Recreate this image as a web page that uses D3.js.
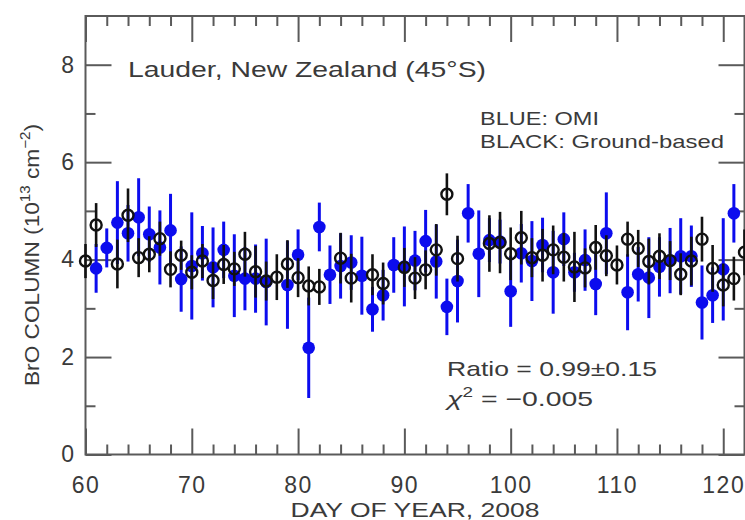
<!DOCTYPE html>
<html>
<head>
<meta charset="utf-8">
<script src="https://cdn.jsdelivr.net/npm/d3@7"></script>
<style>
  html, body { margin: 0; padding: 0; background: #fff; }
  svg text { font-family: "Liberation Sans", "DejaVu Sans", sans-serif; fill: #3a3a3a; }
</style>
</head>
<body>
<svg id="chart" width="745" height="520"></svg>
<script>
// ---- data ----
const days = [60,61,62,63,64,65,66,67,68,69,70,71,72,73,74,75,76,77,78,79,80,81,82,83,84,85,86,87,88,89,90,91,92,93,94,95,96,97,98,99,100,101,102,103,104,105,106,107,108,109,110,111,112,113,114,115,116,117,118,119,120,121,122];

const groundValues = [3.97,4.71,null,3.91,4.91,4.04,4.11,4.43,3.80,4.09,3.74,
  3.97,3.57,3.90,3.81,4.11,3.75,3.56,3.64,3.91,3.63,
  3.46,3.44,null,4.03,3.62,null,3.69,3.51,null,3.84,
  3.62,3.79,4.20,5.34,4.02,null,null,4.33,4.35,4.12,
  4.45,4.04,4.09,4.20,4.05,3.85,3.83,4.25,4.08,3.89,
  4.42,4.23,3.96,4.07,3.98,3.70,3.97,4.42,3.82,3.48,
  3.61,4.15];
const groundErrors = [0.35,0.45,null,0.50,0.55,0.40,0.37,0.35,0.37,0.30,0.35,
  0.35,0.38,0.40,0.35,0.46,0.53,0.40,0.47,0.49,0.40,
  0.40,0.37,null,0.52,0.50,null,0.42,0.43,null,0.40,
  0.43,0.40,0.53,0.43,0.47,null,null,0.58,0.63,0.54,
  0.55,0.40,0.54,0.50,0.50,0.72,0.40,0.46,0.42,0.40,
  0.36,0.38,0.47,0.47,0.40,0.43,0.50,0.46,0.48,0.44,
  0.45,0.47];

const omiValues = [null,3.82,4.24,4.76,4.54,4.87,4.52,4.25,4.60,3.60,3.87,
  4.13,3.84,4.20,3.67,3.61,3.61,3.54,null,3.48,4.10,
  2.19,4.67,3.69,3.87,3.94,3.67,2.98,3.27,3.89,3.86,
  3.98,4.38,3.96,3.03,3.56,4.95,4.12,4.40,4.37,3.35,
  4.13,3.97,4.30,3.74,4.42,3.74,3.99,3.50,4.54,null,
  3.33,3.70,3.63,3.85,3.98,4.07,4.07,3.12,3.27,3.80,
  4.95,null];
const omiErrors = [null,0.50,0.40,0.85,0.58,0.80,0.57,0.76,0.75,0.67,1.10,
  0.56,0.82,0.58,0.85,0.65,0.70,0.89,null,0.90,0.52,
  1.03,0.50,0.60,0.67,0.56,0.80,0.46,0.52,0.57,0.82,
  0.61,0.64,0.76,0.58,0.85,0.60,0.89,0.45,0.45,0.73,
  0.60,0.82,0.56,0.85,0.55,0.40,0.63,0.64,0.84,null,
  0.78,0.56,0.83,0.61,0.67,0.78,0.63,0.76,0.57,1.05,
  0.60,null];

const xMajorTicks = [60,70,80,90,100,110,120];
const xMinorTicks = [62,64,66,68,72,74,76,78,82,84,86,88,92,94,96,98,102,104,106,108,112,114,116,118,122];
const yMajorTicks = [0,2,4,6,8];
const yMinorTicks = [1,3,5,7];

const titleText = "Lauder, New Zealand (45°S)";
const legendLines = ["BLUE: OMI", "BLACK: Ground-based"];
const ratioText = "Ratio = 0.99±0.15";
const chiValue = " = −0.005";
const xLabel = "DAY OF YEAR, 2008";

// ---- layout ----
const svg = d3.select("#chart");
const L = 85.5, R = 744.5, T = 16, B = 454.5;
const x = d3.scaleLinear().domain([60, 122]).range([L, R]);
const y = d3.scaleLinear().domain([0, 9]).range([B, T]);
const axisColor = "#5a5a5a";
const blue = "#0c0cee";
const black = "#111";

// frame
svg.append("rect").attr("x", L).attr("y", T).attr("width", R - L).attr("height", B - T)
  .attr("fill", "none").attr("stroke", axisColor).attr("stroke-width", 2);

function styleAxis(g) {
  g.select(".domain").remove();
  g.selectAll(".tick line").attr("stroke", axisColor).attr("stroke-width", 2);
  g.selectAll(".tick text").style("font-size", "23px").attr("fill", "#3a3a3a")
    .style("letter-spacing", "1.5px");
}
const MAJ = 26, MIN = 10;
svg.append("g").attr("transform", `translate(0,${B})`)
  .call(d3.axisBottom(x).tickValues(xMajorTicks).tickSize(-MAJ).tickPadding(22).tickFormat(d3.format("d")))
  .call(styleAxis);
svg.append("g").attr("transform", `translate(0,${B})`)
  .call(d3.axisBottom(x).tickValues(xMinorTicks).tickSize(-MIN).tickFormat(""))
  .call(styleAxis);
svg.append("g").attr("transform", `translate(0,${T})`)
  .call(d3.axisTop(x).tickValues(xMajorTicks).tickSize(-MAJ).tickFormat(""))
  .call(styleAxis);
svg.append("g").attr("transform", `translate(0,${T})`)
  .call(d3.axisTop(x).tickValues(xMinorTicks).tickSize(-MIN).tickFormat(""))
  .call(styleAxis);
svg.append("g").attr("transform", `translate(${L},0)`)
  .call(d3.axisLeft(y).tickValues(yMajorTicks).tickSize(-MAJ).tickPadding(10).tickFormat(d3.format("d")))
  .call(styleAxis);
svg.append("g").attr("transform", `translate(${L},0)`)
  .call(d3.axisLeft(y).tickValues(yMinorTicks).tickSize(-MIN).tickFormat(""))
  .call(styleAxis);
svg.append("g").attr("transform", `translate(${R},0)`)
  .call(d3.axisRight(y).tickValues(yMajorTicks).tickSize(-MAJ).tickFormat(""))
  .call(styleAxis);
svg.append("g").attr("transform", `translate(${R},0)`)
  .call(d3.axisRight(y).tickValues(yMinorTicks).tickSize(-MIN).tickFormat(""))
  .call(styleAxis);

// data rows
const omiRows = days.map((d, i) => ({day: d, v: omiValues[i], e: omiErrors[i]})).filter(r => r.v != null);
const groundRows = days.map((d, i) => ({day: d, v: groundValues[i], e: groundErrors[i]})).filter(r => r.v != null);

const plot = svg.append("g");
// OMI (blue, filled)
plot.append("g").selectAll("line").data(omiRows).join("line")
  .attr("x1", d => x(d.day)).attr("x2", d => x(d.day))
  .attr("y1", d => y(d.v - d.e)).attr("y2", d => y(d.v + d.e))
  .attr("stroke", blue).attr("stroke-width", 3);
plot.append("g").selectAll("circle").data(omiRows).join("circle")
  .attr("cx", d => x(d.day)).attr("cy", d => y(d.v)).attr("r", 6.3)
  .attr("fill", blue);
// Ground-based (black, open)
plot.append("g").selectAll("line").data(groundRows).join("line")
  .attr("x1", d => x(d.day)).attr("x2", d => x(d.day))
  .attr("y1", d => y(d.v - d.e)).attr("y2", d => y(d.v + d.e))
  .attr("stroke", black).attr("stroke-width", 2.6);
plot.append("g").selectAll("circle").data(groundRows).join("circle")
  .attr("cx", d => x(d.day)).attr("cy", d => y(d.v)).attr("r", 5.5)
  .attr("fill", "none").attr("stroke", black).attr("stroke-width", 2.4);

// texts (widths fitted to the reference)
svg.append("text").attr("x", 128).attr("y", 77).style("font-size", "22px")
  .attr("textLength", 358).attr("lengthAdjust", "spacingAndGlyphs").text(titleText);
const legendWidths = [119, 244];
legendLines.forEach((t, i) => {
  svg.append("text").attr("x", 480).attr("y", 125 + i * 23).style("font-size", "18.5px")
    .attr("textLength", legendWidths[i]).attr("lengthAdjust", "spacingAndGlyphs").text(t);
});
svg.append("text").attr("x", 447).attr("y", 376).style("font-size", "21px")
  .attr("textLength", 210).attr("lengthAdjust", "spacingAndGlyphs").text(ratioText);
const chi = svg.append("text").attr("x", 447).attr("y", 406).style("font-size", "21px")
  .attr("textLength", 146).attr("lengthAdjust", "spacingAndGlyphs");
chi.append("tspan").style("font-style", "italic").text("χ");
chi.append("tspan").attr("dy", -9).style("font-size", "14px").text("2");
chi.append("tspan").attr("dy", 9).text(chiValue);

svg.append("text").attr("x", 415).attr("y", 517).attr("text-anchor", "middle")
  .style("font-size", "21px").attr("textLength", 249).attr("lengthAdjust", "spacingAndGlyphs")
  .text(xLabel);

const yl = svg.append("text").attr("transform", "translate(39,255) rotate(-90)")
  .attr("text-anchor", "middle").style("font-size", "21px")
  .attr("textLength", 262).attr("lengthAdjust", "spacingAndGlyphs");
yl.append("tspan").text("BrO COLUMN (10");
yl.append("tspan").attr("dy", -9).style("font-size", "14px").text("13");
yl.append("tspan").attr("dy", 9).text(" cm");
yl.append("tspan").attr("dy", -9).style("font-size", "14px").text("−2");
yl.append("tspan").attr("dy", 9).text(")");
</script>
</body>
</html>
